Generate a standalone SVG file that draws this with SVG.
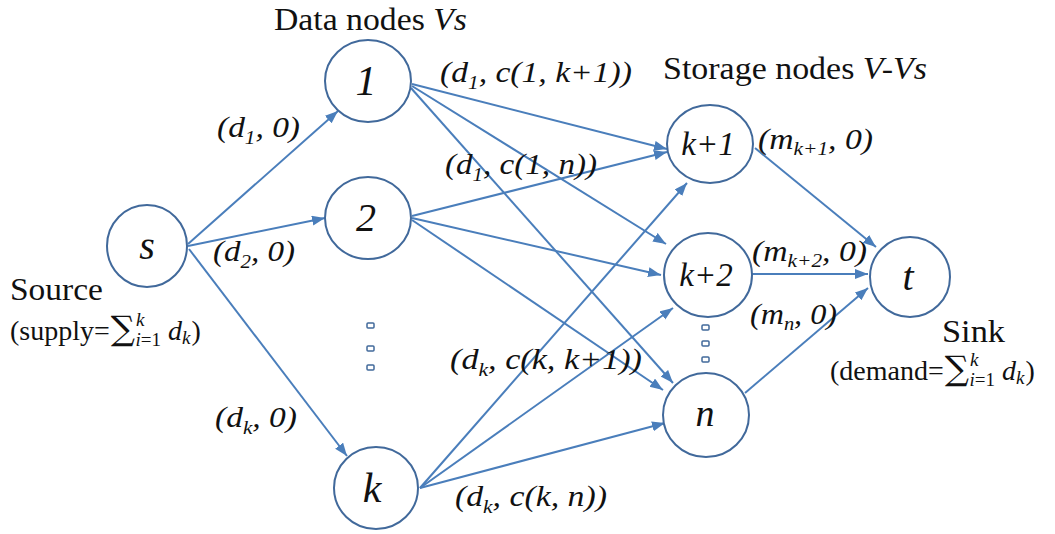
<svg xmlns="http://www.w3.org/2000/svg" width="1055" height="534" viewBox="0 0 1055 534">
<defs>
<marker id="ah" markerUnits="userSpaceOnUse" markerWidth="14" markerHeight="12" refX="13" refY="5" orient="auto">
<path d="M0,0 L13,5 L0,10 Z" fill="#4a7ebb"/>
</marker>
<style>
.node ellipse{fill:#fff;stroke:#41699b;stroke-width:2}
.nl{font-family:"Liberation Serif","Times New Roman",serif;font-style:italic;fill:#111;text-anchor:middle}
.edges line{stroke:#4a7ebb;stroke-width:2;marker-end:url(#ah)}
.rm{font-family:"Liberation Serif","Times New Roman",serif;fill:#111}
.it{font-style:italic}
.lbl{font-family:"Liberation Serif","Times New Roman",serif;font-style:italic;fill:#111;font-size:30px}
.sb{font-size:19px}
.sg{font-family:"DejaVu Serif",serif;font-size:34px}
.dot{fill:#fff;stroke:#41699b;stroke-width:1.5}
</style>
</defs>
<rect width="1055" height="534" fill="#fff"/>
<g class="edges" id="connectors">
<line x1="188" y1="244" x2="338" y2="111"/>
<line x1="188" y1="246" x2="325" y2="218"/>
<line x1="189" y1="249" x2="347" y2="456"/>
<line x1="412" y1="84" x2="667" y2="149"/>
<line x1="412" y1="86" x2="666" y2="244"/>
<line x1="411" y1="88" x2="673" y2="383"/>
<line x1="412" y1="216" x2="667" y2="152"/>
<line x1="412" y1="218" x2="661" y2="275"/>
<line x1="412" y1="220" x2="663" y2="390"/>
<line x1="420" y1="488" x2="687" y2="183"/>
<line x1="420" y1="488" x2="673" y2="308"/>
<line x1="420" y1="488" x2="665" y2="423"/>
<line x1="755" y1="148" x2="876" y2="247"/>
<line x1="752" y1="274" x2="868" y2="274"/>
<line x1="745" y1="393" x2="868" y2="288"/>
</g>
<g id="node-s" class="node"><ellipse cx="147" cy="246" rx="40" ry="41"/><text class="nl" x="147" y="259" font-size="40">s</text></g>
<g id="node-1" class="node"><ellipse cx="368" cy="81" rx="43" ry="41"/><text class="nl" x="366" y="95" font-size="42">1</text></g>
<g id="node-2" class="node"><ellipse cx="368" cy="218" rx="43" ry="41"/><text class="nl" x="366" y="231" font-size="40">2</text></g>
<g id="node-k" class="node"><ellipse cx="376" cy="488" rx="42" ry="41"/><text class="nl" x="372" y="502" font-size="42">k</text></g>
<g id="node-k1" class="node"><ellipse cx="710" cy="144" rx="43" ry="39"/><text class="nl" x="708" y="155" font-size="33">k+1</text></g>
<g id="node-k2" class="node"><ellipse cx="708" cy="275" rx="44" ry="42"/><text class="nl" x="706" y="286" font-size="33">k+2</text></g>
<g id="node-n" class="node"><ellipse cx="706" cy="415" rx="43" ry="42"/><text class="nl" x="705" y="426" font-size="38">n</text></g>
<g id="node-t" class="node"><ellipse cx="910" cy="277" rx="40" ry="40"/><text class="nl" x="908" y="290" font-size="40">t</text></g>
<g id="dots">
<rect class="dot" x="367" y="323" width="7" height="5" rx="1"/>
<rect class="dot" x="367" y="346" width="7" height="5" rx="1"/>
<rect class="dot" x="367" y="365" width="7" height="5" rx="1"/>
<rect class="dot" x="702" y="325" width="7" height="5" rx="1"/>
<rect class="dot" x="702" y="341" width="7" height="5" rx="1"/>
<rect class="dot" x="702" y="357" width="7" height="5" rx="1"/>
</g>
<g id="titles">
<text class="rm" x="274" y="30" font-size="31" textLength="193" lengthAdjust="spacingAndGlyphs">Data nodes <tspan class="it">Vs</tspan></text>
<text class="rm" x="663" y="79" font-size="31" textLength="264" lengthAdjust="spacingAndGlyphs">Storage nodes <tspan class="it">V-Vs</tspan></text>
<text class="rm" x="10" y="300" font-size="31" textLength="93" lengthAdjust="spacingAndGlyphs">Source</text>
<text class="rm" x="10" y="340" font-size="28">(supply=<tspan class="sg" dx="1">∑</tspan><tspan class="it" font-size="19" dx="1" dy="-14">k</tspan><tspan class="it" font-size="19" dx="-9" dy="20">i</tspan><tspan font-size="19">=1</tspan><tspan class="it" dx="7" dy="-6">d</tspan><tspan class="it" font-size="19" dy="4">k</tspan><tspan dx="1" dy="-4">)</tspan></text>
<text class="rm" x="942" y="342" font-size="31" textLength="63" lengthAdjust="spacingAndGlyphs">Sink</text>
<text class="rm" x="830" y="380" font-size="28">(demand=<tspan class="sg" dx="1">∑</tspan><tspan class="it" font-size="19" dx="1" dy="-14">k</tspan><tspan class="it" font-size="19" dx="-9" dy="20">i</tspan><tspan font-size="19">=1</tspan><tspan class="it" dx="7" dy="-6">d</tspan><tspan class="it" font-size="19" dy="4">k</tspan><tspan dx="1" dy="-4">)</tspan></text>
</g>
<g id="edge-labels">
<text class="lbl" x="217" y="137" textLength="83" lengthAdjust="spacingAndGlyphs">(d<tspan class="sb" dy="7">1</tspan><tspan dy="-7">, 0)</tspan></text>
<text class="lbl" x="213" y="261" textLength="82" lengthAdjust="spacingAndGlyphs">(d<tspan class="sb" dy="7">2</tspan><tspan dy="-7">, 0)</tspan></text>
<text class="lbl" x="215" y="427" textLength="82" lengthAdjust="spacingAndGlyphs">(d<tspan class="sb" dy="7">k</tspan><tspan dy="-7">, 0)</tspan></text>
<text class="lbl" x="440" y="82" textLength="192" lengthAdjust="spacingAndGlyphs">(d<tspan class="sb" dy="7">1</tspan><tspan dy="-7">, c(1, k+1))</tspan></text>
<text class="lbl" x="445" y="174" textLength="152" lengthAdjust="spacingAndGlyphs">(d<tspan class="sb" dy="7">1</tspan><tspan dy="-7">, c(1, n))</tspan></text>
<text class="lbl" x="450" y="369" textLength="192" lengthAdjust="spacingAndGlyphs">(d<tspan class="sb" dy="7">k</tspan><tspan dy="-7">, c(k, k+1))</tspan></text>
<text class="lbl" x="455" y="506" textLength="152" lengthAdjust="spacingAndGlyphs">(d<tspan class="sb" dy="7">k</tspan><tspan dy="-7">, c(k, n))</tspan></text>
<text class="lbl" x="758" y="149" textLength="115" lengthAdjust="spacingAndGlyphs">(m<tspan class="sb" dy="6">k+1</tspan><tspan dy="-6">, 0)</tspan></text>
<text class="lbl" x="752" y="261" textLength="115" lengthAdjust="spacingAndGlyphs">(m<tspan class="sb" dy="6">k+2</tspan><tspan dy="-6">, 0)</tspan></text>
<text class="lbl" x="750" y="324" textLength="87" lengthAdjust="spacingAndGlyphs">(m<tspan class="sb" dy="6">n</tspan><tspan dy="-6">, 0)</tspan></text>
</g>
</svg>
